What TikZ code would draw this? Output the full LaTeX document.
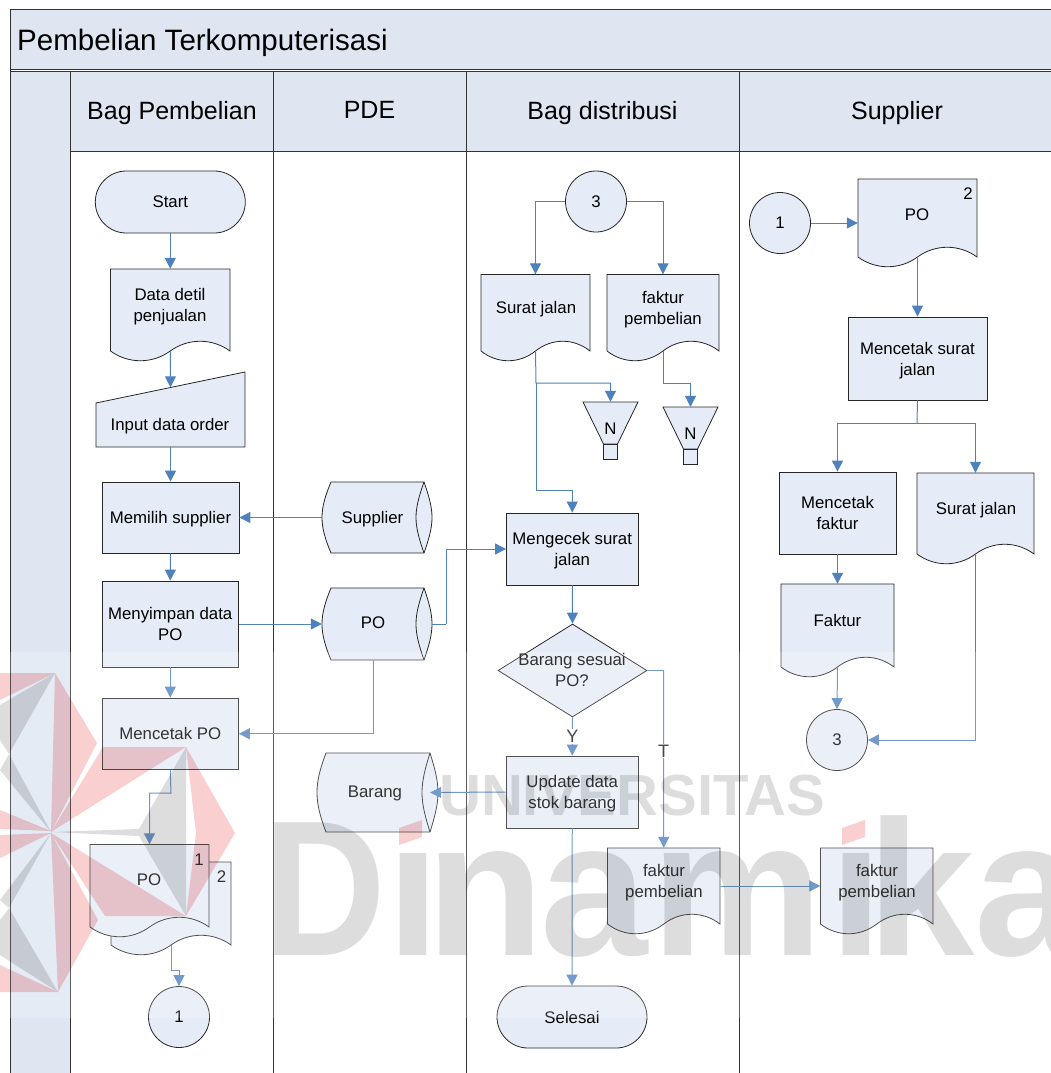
\documentclass[tikz,border=0pt]{standalone}
\usepackage{fontspec}
\setmainfont{Liberation Sans}
\usetikzlibrary{arrows.meta,calc,shapes.geometric}
\definecolor{band}{HTML}{DFE6F2}
\definecolor{shapefill}{HTML}{E6ECF7}
\definecolor{conncol}{HTML}{4F81BD}
\definecolor{wmpink}{HTML}{F9CFD0}
\definecolor{wmgray}{HTML}{DDDDDD}
\tikzset{
  bandline/.style={draw=black!80,line width=0.9pt},
  shp/.style={draw=black!85,fill=shapefill,line width=0.8pt},
  proc/.style={shp,rectangle,inner sep=0pt,align=center,text depth=0pt,font=\fontsize{16.8}{21}\selectfont},
  txt/.style={inner sep=0pt,align=center,text depth=0pt,font=\fontsize{16.8}{21}\selectfont},
  hdr/.style={inner sep=0pt,text depth=0pt,font=\fontsize{25}{30}\selectfont},
  anc/.style={inner sep=0pt,rectangle},
  conn/.style={draw=conncol,line width=1pt,-{Triangle[length=11pt,width=11pt,fill=conncol]}},
  plainconn/.style={draw=conncol,line width=1pt},
  wmp/.style={fill=wmpink,draw=none},
  wmg/.style={fill=wmgray,draw=none},
}
% rectangle process node: name, x1,y1,x2,y2, text
\newcommand{\procbox}[6]{\node[proc,minimum width={(#4-#2)*1pt},minimum height={(#5-#3)*1pt}] (#1) at ({(#2+#4)/2},{(#3+#5)/2}) {#6};}
% document with wavy foot: name,x1,y1,x2,y2
\newcommand{\docshape}[5]{%
  \pgfmathsetmacro\wavA{#2+.15*(#4-#2)}\pgfmathsetmacro\wavB{#2+.35*(#4-#2)}%
  \pgfmathsetmacro\wavC{#2+.5*(#4-#2)}\pgfmathsetmacro\wavD{#2+.65*(#4-#2)}\pgfmathsetmacro\wavE{#2+.85*(#4-#2)}%
  \path[shp] (#2,#3) -- (#4,#3) -- (#4,#5) .. controls (\wavE,#5-13) and (\wavD,#5-13) .. (\wavC,#5) .. controls (\wavB,#5+13) and (\wavA,#5+13) .. (#2,#5) -- cycle;
  \node[anc,minimum width={(#4-#2)*1pt},minimum height={(#5-#3)*1pt}] (#1) at ({(#2+#4)/2},{(#3+#5)/2}) {};}
% stored data: name,xL,yT,xR,yB
\newcommand{\storeshape}[5]{%
  \pgfmathsetmacro\stoM{(#3+#5)/2}\pgfmathsetmacro\stoH{#5-#3}%
  \path[shp] (#2+9,#3) -- (#4-8,#3) .. controls (#4-3,#3+.2*\stoH) and (#4,#3+.35*\stoH) .. (#4,\stoM) .. controls (#4,#5-.35*\stoH) and (#4-3,#5-.2*\stoH) .. (#4-8,#5) -- (#2+9,#5) .. controls (#2+3,#5-.2*\stoH) and (#2,#5-.35*\stoH) .. (#2,\stoM) .. controls (#2,#3+.35*\stoH) and (#2+3,#3+.2*\stoH) .. cycle;
  \draw[draw=black!85,line width=0.8pt] (#4-8,#3) .. controls (#4-13,#3+.2*\stoH) and (#4-16,#3+.35*\stoH) .. (#4-16,\stoM) .. controls (#4-16,#5-.35*\stoH) and (#4-13,#5-.2*\stoH) .. (#4-8,#5);
  \node[anc,minimum width={(#4-#2)*1pt},minimum height={(#5-#3)*1pt}] (#1) at ({(#2+#4)/2},\stoM) {};}
% off-line funnel: name,cx,top
\newcommand{\funnel}[3]{%
  \path[shp] (#2-27.5,#3) -- (#2+27.5,#3) -- (#2+7,#3+42) -- (#2-7,#3+42) -- cycle;
  \path[shp] (#2-7,#3+42) rectangle (#2+7,#3+57);
  \node[anc,minimum width=55pt,minimum height=57pt] (#1) at (#2,#3+28.5) {};
  \node[txt] (#1-t) at (#2,#3+27) {N};}
\begin{document}
\begin{tikzpicture}[x=1pt,y=-1pt]
\useasboundingbox (0,0) rectangle (1051,1073);
\clip (0,0) rectangle (1051,1073);
% swimlane frame
\fill[band] (10.5,9.5) rectangle (1052,70);
\fill[band] (10.5,71) rectangle (70.5,1074);
\fill[band] (70.5,71) rectangle (1052,151.5);
\draw[bandline] (1052,9.5) -- (10.5,9.5) -- (10.5,1074);
\draw[bandline] (10.5,69.5) -- (1052,69.5);
\draw[bandline] (10.5,71.5) -- (1052,71.5);
\draw[bandline] (70.5,71.5) -- (70.5,1074);
\draw[bandline] (273.5,71.5) -- (273.5,1074);
\draw[bandline] (466.5,71.5) -- (466.5,1074);
\draw[bandline] (739.5,71.5) -- (739.5,1074);
\draw[bandline] (70.5,151.5) -- (1052,151.5);
\node[inner sep=0pt,anchor=base west,font=\fontsize{29.5}{34}\selectfont] (title) at (17,51) {Pembelian Terkomputerisasi};
\node[hdr] (h1) at (172,110) {Bag Pembelian};
\node[hdr] (h2) at (369.5,110) {PDE};
\node[hdr] (h3) at (602.5,110) {Bag distribusi};
\node[hdr] (h4) at (897,110) {Supplier};
% Bag Pembelian column
\node[proc,rounded corners=31pt,minimum width=150pt,minimum height=62pt] (start) at (170.3,202) {Start};
\docshape{data}{110.5}{269}{230}{351}
\node[txt] (data-t) at (170,304.5) {Data detil\\penjualan};
\path[shp] (96,403) -- (245,372) -- (245,447) -- (96,447) -- cycle;
\node[anc,minimum width=149pt,minimum height=75pt] (inp) at (170.5,409.5) {};
\node[txt] (inp-t) at (170,424) {Input data order};
\procbox{pilih}{102}{482}{239}{553}{Memilih supplier}
\procbox{simpan}{102}{581}{238.5}{667}{Menyimpan data\\PO}
\procbox{cetak}{102}{698}{238.5}{769.5}{Mencetak PO}
\docshape{poB}{111}{862}{231}{945}
\docshape{poA}{90}{844.5}{209}{927}
\node[txt] (poA-t) at (149,880) {PO};
\node[txt] (poA-n) at (199,860) {1};
\node[txt] (poB-n) at (221.5,877) {2};
\node[proc,circle,minimum size=61pt] (c1a) at (179,1017) {1};
% PDE column
\storeshape{sup}{322}{482}{432}{553}
\node[txt] (sup-t) at (372.5,517) {Supplier};
\storeshape{posto}{322}{588}{432}{660}
\node[txt] (posto-t) at (373,623) {PO};
\storeshape{brg}{317}{753}{438}{832}
\node[txt] (brg-t) at (375,792) {Barang};
% Bag distribusi column
\node[proc,circle,minimum size=61pt] (c3a) at (596,201.5) {3};
\docshape{sj}{481}{274.5}{590}{351}
\node[txt] (sj-t) at (536,307) {Surat jalan};
\docshape{fp}{607}{274.5}{719}{351}
\node[txt] (fp-t) at (663,307.5) {faktur\\pembelian};
\funnel{n1}{610.5}{402}
\funnel{n2}{690.5}{407}
\procbox{cek}{506.5}{513}{638}{585}{Mengecek surat\\jalan}
\node[proc,diamond,aspect=1.6,inner sep=0pt,minimum width=149pt,minimum height=93pt] (dec) at (572.5,670.5) {};
\node[txt] (dec-t) at (572,669.5) {Barang sesuai\\PO?};
\procbox{upd}{506.5}{756}{638}{828}{Update data\\stok barang}
\docshape{fp2}{607.5}{848}{720}{924}
\node[txt] (fp2-t) at (664,881) {faktur\\pembelian};
\node[proc,rounded corners=31pt,minimum width=150pt,minimum height=62pt] (end) at (572,1017) {Selesai};
% Supplier column
\node[proc,circle,minimum size=61pt] (c1b) at (780,223) {1};
\docshape{poS}{858}{179}{977}{257}
\node[txt] (poS-t) at (917,215) {PO};
\node[txt] (poS-n) at (968,194) {2};
\procbox{csj}{848}{317}{987}{400}{Mencetak surat\\jalan}
\procbox{cfk}{779}{472}{896}{554}{Mencetak\\faktur}
\docshape{sjS}{917}{473}{1034}{554}
\node[txt] (sjS-t) at (976,508) {Surat jalan};
\docshape{fk}{781}{584}{894}{667}
\node[txt] (fk-t) at (837.5,620) {Faktur};
\node[proc,circle,minimum size=61pt] (c3b) at (837,740) {3};
\docshape{fp3}{820.5}{848}{933}{924}
\node[txt] (fp3-t) at (877,881) {faktur\\pembelian};
% connector waypoints
\coordinate (m1) at (171,793);
\coordinate (m2) at (171,970);
\coordinate (s1) at (536,383);
\coordinate (s2) at (536,490);
\coordinate (s3) at (663,383);
\coordinate (p1) at (446,624);
\coordinate (p2) at (373,660);
\coordinate (b1) at (917,423);
\coordinate (u1) at (663.5,670.5);
% connectors
\draw[conn] (start.south) -- (data.north-|start.south);
\draw[conn] (data.south) -- ([yshift=-15.5pt]inp.north);
\draw[conn] (inp.south) -- (pilih.north);
\draw[conn] (pilih.south) -- (simpan.north);
\draw[conn] (simpan.south) -- (cetak.north);
\draw[conn] (sup.west) -- (pilih.east);
\draw[conn] (simpan.east) -- (posto.west);
\draw[conn] (p2) |- (cetak.east);
\draw[plainconn] (posto.east) -- (p1);
\draw[conn] (p1) |- (cek.west);
\draw[conn] (cetak.south) -- (m1) -| (poA.north);
\draw[conn] (poB.south) -- (m2) -| (c1a.north);
\draw[conn] (c3a.west) -| (sj.north);
\draw[conn] (c3a.east) -| (fp.north);
\draw[conn] (sj.south) -- (s1) -| (n1.north);
\draw[conn] (s1) -- (s2) -| (cek.north);
\draw[conn] (fp.south) -- (s3) -| (n2.north);
\draw[conn] (cek.south) -- (dec.north);
\draw[conn] (dec.south) -- (upd.north) node[pos=0.5,fill=white,inner sep=1pt,text=black!90,font=\fontsize{18}{21}\selectfont] (yl) {Y};
\draw[plainconn] (dec.east) -- (u1);
\draw[conn] (u1) -- (fp2.north) node[pos=0.455,fill=white,inner sep=1pt,text=black!90,font=\fontsize{18}{21}\selectfont] (tl) {T};
\draw[conn] (upd.west) -- ([xshift=-8pt]brg.east);
\draw[conn] (upd.south) -- (end.north);
\draw[conn] (fp2.east) -- (fp3.west);
\draw[conn] (c1b.east) -- (poS.west|-c1b.east);
\draw[conn] (poS.south) -- (csj.north);
\draw[plainconn] (csj.south) -- (b1);
\draw[conn] (b1) -| (cfk.north);
\draw[conn] (b1) -| (sjS.north);
\draw[conn] (cfk.south) -- (fk.north-|cfk.south);
\draw[conn] (fk.south) -- (c3b.north);
\draw[conn] (sjS.south) |- (c3b.east);
% watermark wash
\fill[white,opacity=.2] (0,652) rectangle (1051,1017.5);
\begin{scope}[blend mode=multiply]
 \fill[wmp] (0,673) -- (55,673) -- (0,700) -- cycle;
 \fill[wmp] (55,673) -- (97,743) -- (51,832) -- cycle;
 \fill[wmp] (103,747) -- (186,747) -- (51,832) -- cycle;
 \fill[wmp] (186,747) -- (235,833) -- (186,916) -- (196,833) -- cycle;
 \fill[wmp] (105,916) -- (186,916) -- (51,833) -- cycle;
 \fill[wmp] (98,920) -- (58,992) -- (51,833) -- cycle;
 \fill[wmp] (0,810) -- (51,831) -- (0,829) -- cycle;
 \fill[wmp] (0,835) -- (51,833) -- (0,858) -- cycle;
 \fill[wmp] (58,992) -- (0,992) -- (0,965) -- cycle;
 \fill[wmg] (55,673) -- (9,754) -- (0,740) -- (0,705) -- cycle;
 \fill[wmg] (9,754) -- (51,832) -- (0,770) -- cycle;
 \fill[wmg] (186,747) -- (139,829) -- (51,832) -- (139,836) -- (186,916) -- cycle;
 \fill[wmg] (58,992) -- (9,908) -- (0,920) -- (0,955) -- cycle;
 \fill[wmg] (9,908) -- (51,833) -- (0,900) -- cycle;
 \fill[wmp] (399,828) -- (422,820) -- (422,837) -- (399,845) -- cycle;
 \fill[wmp] (842,828) -- (865,820) -- (865,837) -- (842,845) -- cycle;
 \node[inner sep=0pt,anchor=base west,text=wmgray,font=\bfseries\fontsize{58}{60}\selectfont] (wm1) at (439,815) {UNIVERSITAS};
 \node[inner sep=0pt,anchor=base west,text=wmgray,font=\bfseries\fontsize{193}{200}\selectfont] (wm2) at (263,955) {\scalebox{.88}[1]{D}\kern1pt ı\kern-14pt n\kern-4pt a\kern4pt m\kern6pt ı\kern-16pt k\kern0pt a};
\end{scope}
\end{tikzpicture}
\end{document}
